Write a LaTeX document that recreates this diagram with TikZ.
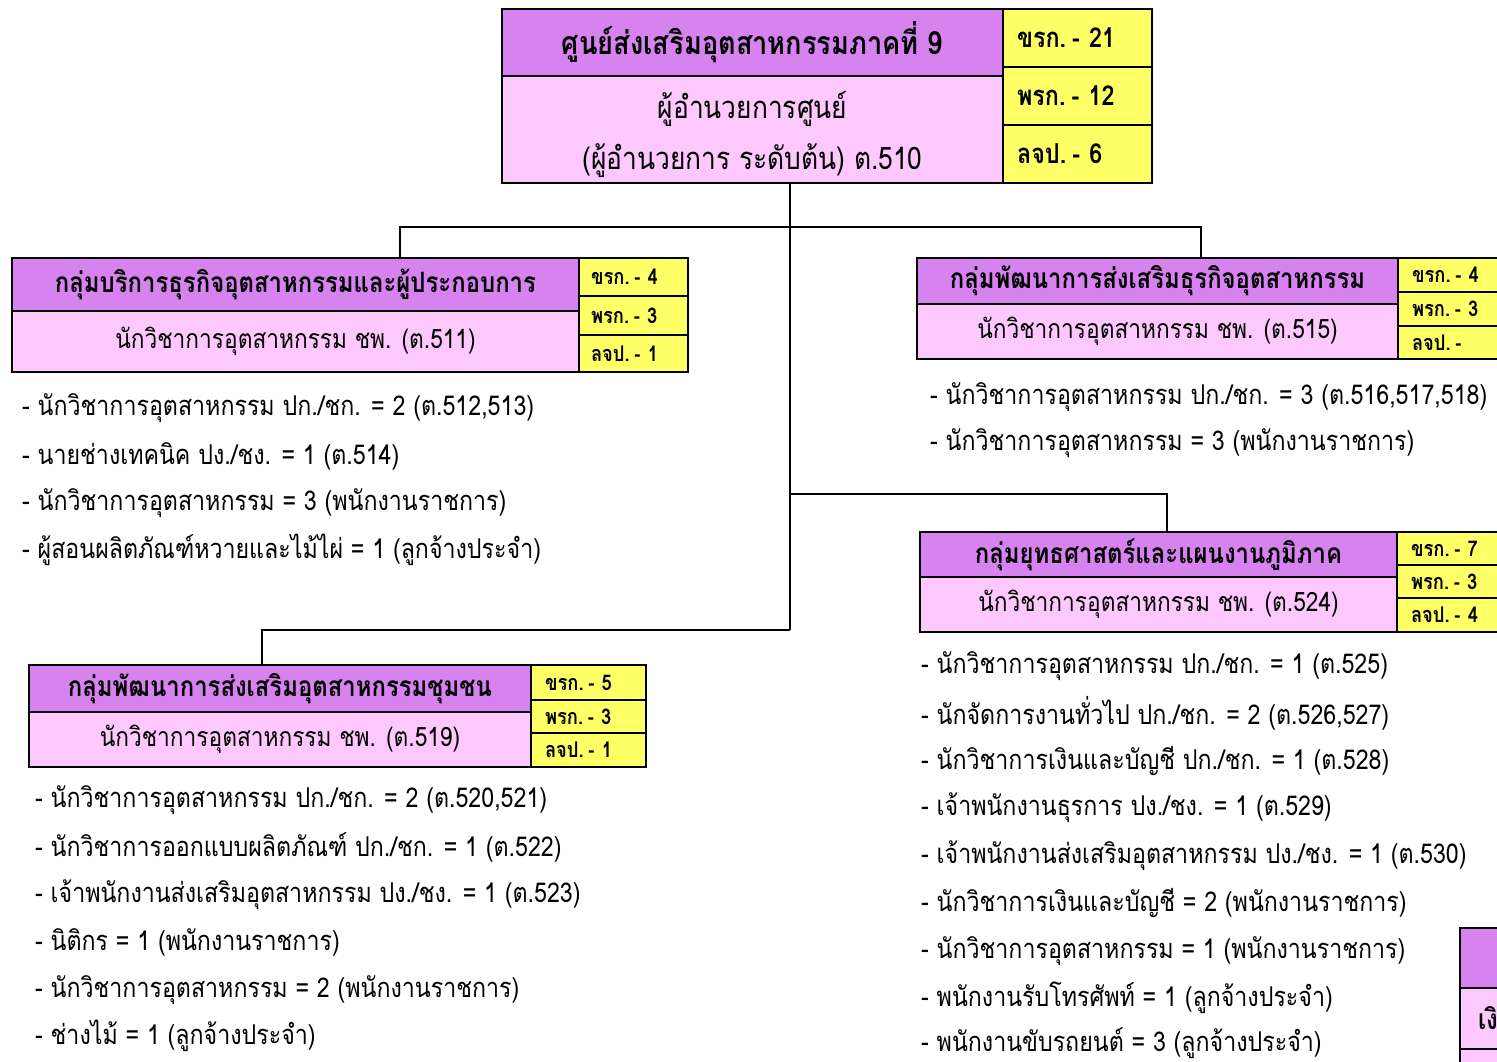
\documentclass[tikz,border=0pt]{standalone}
\usepackage{fontspec}
\newfontfamily\thai[Script=Thai, FakeStretch=0.85]{Loma}
\definecolor{hdr}{RGB}{214,131,240}
\definecolor{bdy}{RGB}{253,200,253}
\definecolor{yel}{RGB}{255,255,102}
\tikzset{
  box/.style={draw=black, line width=2pt, inner sep=0pt, anchor=north west},
  conn/.style={draw=black, line width=2pt},
  item/.style={anchor=west, inner sep=0pt, font=\thai\fontsize{27.3}{30}\selectfont},
}
\newcommand\hfont{\thai\bfseries\fontsize{28.1}{32}\selectfont}
\newcommand\bfont{\thai\fontsize{26.7}{30}\selectfont}
\newcommand\ysp{\hspace{0.22em}}
\newcommand\cellbox[8]{%
  \pgfmathsetmacro\cw{#4-#2}\pgfmathsetmacro\ch{#5-#3}%
  \node[box, fill=#6, minimum width=\cw pt, minimum height=\ch pt, align=center, font=#7] (#1) at (#2,#3) {#8};}
\newcommand\ycell[8]{%
  \pgfmathsetmacro\cw{#4-#2}\pgfmathsetmacro\ch{#5-#3}\pgfmathsetmacro\tw{#4-#2-2*#6}%
  \node[box, fill=yel, minimum width=\cw pt, minimum height=\ch pt, text width=\tw pt, align=left, inner xsep=#6 pt, font=\thai\bfseries\fontsize{#7}{#7}\selectfont] (#1) at (#2,#3) {#8};}
\begin{document}
\begin{tikzpicture}[x=1pt,y=-1pt]
\useasboundingbox (0,0) rectangle (1497,1062);
\clip (0,0) rectangle (1497,1062);
\fill[white] (0,0) rectangle (1497,1062);
% top box
\cellbox{tophead}{501}{8}{1002}{75}{hdr}{\thai\bfseries\fontsize{32}{36}\selectfont}{ศูนย์ส่งเสริมอุตสาหกรรมภาคที่ 9}
\cellbox{topbody}{501}{75}{1002}{182}{bdy}{\thai\fontsize{31}{51}\selectfont}{\rule{0pt}{38pt}ผู้อำนวยการศูนย์\\(ผู้อำนวยการ ระดับต้น) ต.510}
\ycell{topy1}{1002}{8}{1151}{66}{14}{27.5}{ขรก.\ysp- 21}
\ycell{topy2}{1002}{66}{1151}{124}{14}{27.5}{พรก.\ysp- 12}
\ycell{topy3}{1002}{124}{1151}{182}{14}{27.5}{ลจป.\ysp- 6}
% group 1
\cellbox{g1head}{11}{257}{578}{310}{hdr}{\hfont}{กลุ่มบริการธุรกิจอุตสาหกรรมและผู้ประกอบการ}
\cellbox{g1body}{11}{310}{578}{371}{bdy}{\bfont}{นักวิชาการอุตสาหกรรม ชพ. (ต.511)}
\ycell{g1y1}{578}{257}{687}{295}{12}{21.6}{ขรก.\ysp- 4}
\ycell{g1y2}{578}{295}{687}{334}{12}{21.6}{พรก.\ysp- 3}
\ycell{g1y3}{578}{334}{687}{371}{12}{21.6}{ลจป.\ysp- 1}
\node[item] (g1a) at (22,408) {- นักวิชาการอุตสาหกรรม ปก./ชก. = 2 (ต.512,513)};
\node[item] (g1b) at (22,456) {- นายช่างเทคนิค ปง./ชง. = 1 (ต.514)};
\node[item] (g1c) at (22,503) {- นักวิชาการอุตสาหกรรม = 3 (พนักงานราชการ)};
\node[item] (g1d) at (22,550) {- ผู้สอนผลิตภัณฑ์หวายและไม้ไผ่ = 1 (ลูกจ้างประจำ)};
% group 2
\cellbox{g2head}{916}{257}{1397}{303}{hdr}{\hfont}{กลุ่มพัฒนาการส่งเสริมธุรกิจอุตสาหกรรม}
\cellbox{g2body}{916}{303}{1397}{358}{bdy}{\bfont}{นักวิชาการอุตสาหกรรม ชพ. (ต.515)}
\ycell{g2y1}{1397}{257}{1520}{291}{14}{21.6}{ขรก.\ysp- 4}
\ycell{g2y2}{1397}{291}{1520}{325}{14}{21.6}{พรก.\ysp- 3}
\ycell{g2y3}{1397}{325}{1520}{358}{14}{21.6}{ลจป.\ysp-}
\node[item] (g2a) at (930,397) {- นักวิชาการอุตสาหกรรม ปก./ชก. = 3 (ต.516,517,518)};
\node[item] (g2b) at (930,443) {- นักวิชาการอุตสาหกรรม = 3 (พนักงานราชการ)};
% group 3
\cellbox{g3head}{919}{531}{1396}{576}{hdr}{\hfont}{กลุ่มยุทธศาสตร์และแผนงานภูมิภาค}
\cellbox{g3body}{919}{576}{1396}{631}{bdy}{\bfont}{นักวิชาการอุตสาหกรรม ชพ. (ต.524)}
\ycell{g3y1}{1396}{531}{1520}{564}{14}{21.6}{ขรก.\ysp- 7}
\ycell{g3y2}{1396}{564}{1520}{597}{14}{21.6}{พรก.\ysp- 3}
\ycell{g3y3}{1396}{597}{1520}{631}{14}{21.6}{ลจป.\ysp- 4}
\node[item] (g3a) at (921,666) {- นักวิชาการอุตสาหกรรม ปก./ชก. = 1 (ต.525)};
\node[item] (g3b) at (921,713) {- นักจัดการงานทั่วไป ปก./ชก. = 2 (ต.526,527)};
\node[item] (g3c) at (921,761) {- นักวิชาการเงินและบัญชี ปก./ชก. = 1 (ต.528)};
\node[item] (g3d) at (921,808) {- เจ้าพนักงานธุรการ ปง./ชง. = 1 (ต.529)};
\node[item] (g3e) at (921,856) {- เจ้าพนักงานส่งเสริมอุตสาหกรรม ปง./ชง. = 1 (ต.530)};
\node[item] (g3f) at (921,903) {- นักวิชาการเงินและบัญชี = 2 (พนักงานราชการ)};
\node[item] (g3g) at (921,951) {- นักวิชาการอุตสาหกรรม = 1 (พนักงานราชการ)};
\node[item] (g3h) at (921,998) {- พนักงานรับโทรศัพท์ = 1 (ลูกจ้างประจำ)};
\node[item] (g3i) at (921,1043) {- พนักงานขับรถยนต์ = 3 (ลูกจ้างประจำ)};
% group 4
\cellbox{g4head}{28}{664}{530}{711}{hdr}{\hfont}{กลุ่มพัฒนาการส่งเสริมอุตสาหกรรมชุมชน}
\cellbox{g4body}{28}{711}{530}{766}{bdy}{\bfont}{นักวิชาการอุตสาหกรรม ชพ. (ต.519)}
\ycell{g4y1}{530}{664}{645}{699}{14}{21.6}{ขรก.\ysp- 5}
\ycell{g4y2}{530}{699}{645}{732}{14}{21.6}{พรก.\ysp- 3}
\ycell{g4y3}{530}{732}{645}{766}{14}{21.6}{ลจป.\ysp- 1}
\node[item] (g4a) at (35,800) {- นักวิชาการอุตสาหกรรม ปก./ชก. = 2 (ต.520,521)};
\node[item] (g4b) at (35,847) {- นักวิชาการออกแบบผลิตภัณฑ์ ปก./ชก. = 1 (ต.522)};
\node[item] (g4c) at (35,895) {- เจ้าพนักงานส่งเสริมอุตสาหกรรม ปง./ชง. = 1 (ต.523)};
\node[item] (g4d) at (35,942) {- นิติกร = 1 (พนักงานราชการ)};
\node[item] (g4e) at (35,990) {- นักวิชาการอุตสาหกรรม = 2 (พนักงานราชการ)};
\node[item] (g4f) at (35,1036) {- ช่างไม้ = 1 (ลูกจ้างประจำ)};
% clipped box at bottom right
\cellbox{g5head}{1459}{927}{1560}{987}{hdr}{\thai}{}
\node[box, fill=bdy, minimum width=101pt, minimum height=61pt, inner xsep=18pt, font=\hfont, text width=65pt, align=left] (g5body) at (1459,987) {เงิ};
\cellbox{g5more}{1459}{1048}{1560}{1100}{bdy}{\thai}{}
% connectors
\coordinate (j1) at (790,227);
\coordinate (j2) at (790,494);
\coordinate (j3) at (790,630);
\coordinate (c1) at (400,227);
\coordinate (c2) at (1201,227);
\coordinate (c3) at (1167,494);
\coordinate (c4) at (262,630);
\draw[conn] (topbody.south -| j1) -- (j3);
\draw[conn] (g1head.north -| c1) -- (c1) -- (c2) -- (g2head.north -| c2);
\draw[conn] (j2) -- (c3) -- (g3head.north -| c3);
\draw[conn] (j3) -- (c4) -- (g4head.north -| c4);
\end{tikzpicture}
\end{document}
